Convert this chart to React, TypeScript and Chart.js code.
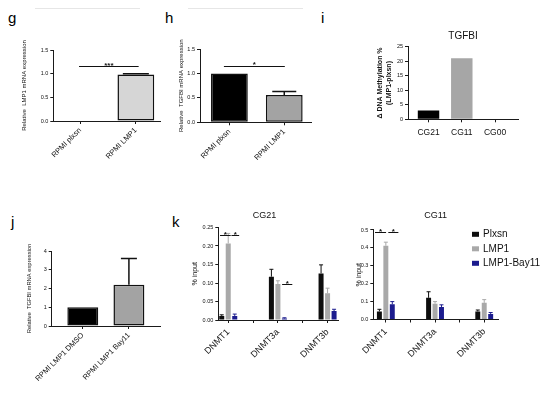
import React, { useEffect, useRef } from 'react';
import { Chart, registerables } from 'chart.js';

Chart.register(...registerables);

const FONT = "'Liberation Sans', Arial, Helvetica, sans-serif";
const AXIS = '#1a1a1a';
const INK = '#111111';

// ---------- panel g ----------
const gLabels = ['RPMI plxsn', 'RPMI LMP1'];
const gValues = [0, 0.98];
const gErrors = [0, 0.02];
const gColors = ['#ffffff', '#d6d6d6'];
const gSig: [number, number, number, string][] = [[0.98, 2.05, 1.16, '***']];

// ---------- panel h ----------
const hLabels = ['RPMI plxsn', 'RPMI LMP1'];
const hValues = [1.0, 0.56];
const hErrors = [0, 0.07];
const hColors = ['#000000', '#a3a3a3'];
const hSig: [number, number, number, string][] = [[0.9, 2.01, 1.15, '*']];

// ---------- panel i ----------
const iTitle = 'TGFBI';
const iLabels = ['CG21', 'CG11', 'CG00'];
const iValues = [3.0, 21.0, 0];
const iColors = ['#000000', '#a6a6a6', '#a6a6a6'];

// ---------- panel j ----------
const jLabels = ['RPMI LMP1 DMSO', 'RPMI LMP1 Bay11'];
const jValues = [1.0, 2.2];
const jErrors = [0, 1.4];
const jColors = ['#000000', '#a3a3a3'];

// ---------- panel k ----------
const kGenes = ['DNMT1', 'DNMT3a', 'DNMT3b'];
const kGenePos = [0, 2, 4];
const kTickPos = [0, 1, 2, 3, 4];
const kSeries = ['Plxsn', 'LMP1', 'LMP1-Bay11'];
const kColors = ['#0d0d0d', '#a9a9a9', '#1c1c8e'];

const cg21Plxsn = [0.011, 0.117, 0.126];
const cg21PlxsnErr = [0.003, 0.02, 0.023];
const cg21Lmp1 = [0.207, 0.097, 0.072];
const cg21Lmp1Err = [0.027, 0.009, 0.014];
const cg21Bay11 = [0.011, 0.004, 0.024];
const cg21Bay11Err = [0.005, 0.002, 0.005];
const cg21Sig: [number, number, number, string][] = [
  [-0.33, 0.1, 0.231, '*'],
  [0.13, 0.44, 0.231, '*'],
  [2.17, 2.58, 0.097, '*'],
];

const cg11Plxsn = [0.045, 0.121, 0.045];
const cg11PlxsnErr = [0.012, 0.034, 0.008];
const cg11Lmp1 = [0.412, 0.088, 0.093];
const cg11Lmp1Err = [0.02, 0.012, 0.018];
const cg11Bay11 = [0.085, 0.07, 0.031];
const cg11Bay11Err = [0.015, 0.012, 0.008];
const cg11Sig: [number, number, number, string][] = [
  [-0.44, 0.01, 0.49, '*'],
  [0.1, 0.51, 0.49, '*'],
];

// ---------- plugins ----------
const errorBarPlugin = {
  id: 'errorBars',
  afterDatasetsDraw(chart: any) {
    const ctx = chart.ctx;
    const y = chart.scales.y;
    chart.data.datasets.forEach((ds: any, di: number) => {
      if (!ds.errors) return;
      const meta = chart.getDatasetMeta(di);
      meta.data.forEach((bar: any, i: number) => {
        const e = ds.errors[i];
        if (!e) return;
        const v = ds.data[i].y;
        const top = y.getPixelForValue(v + e);
        const base = y.getPixelForValue(v);
        ctx.save();
        ctx.strokeStyle = ds.errorColor;
        ctx.lineWidth = ds.errorWidth;
        ctx.beginPath();
        ctx.moveTo(bar.x, base);
        ctx.lineTo(bar.x, top);
        ctx.moveTo(bar.x - ds.errorCap, top);
        ctx.lineTo(bar.x + ds.errorCap, top);
        ctx.stroke();
        ctx.restore();
      });
    });
  },
};

function makeSigPlugin(items: [number, number, number, string][], size: number, dy: number) {
  return {
    id: 'sigBrackets',
    afterDatasetsDraw(chart: any) {
      const { ctx } = chart;
      const xs = chart.scales.x;
      const ys = chart.scales.y;
      items.forEach(([a, b, v, text]) => {
        const x1 = xs.getPixelForValue(a);
        const x2 = xs.getPixelForValue(b);
        const py = Math.round(ys.getPixelForValue(v)) + 0.5;
        ctx.save();
        ctx.strokeStyle = INK;
        ctx.lineWidth = 1;
        ctx.beginPath();
        ctx.moveTo(x1, py);
        ctx.lineTo(x2, py);
        ctx.stroke();
        ctx.fillStyle = INK;
        ctx.font = `bold ${size}px ${FONT}`;
        ctx.textAlign = 'center';
        ctx.textBaseline = 'alphabetic';
        ctx.fillText(text, (x1 + x2) / 2, py + dy);
        ctx.restore();
      });
    },
  };
}

function makeLegendPlugin(dx: number, dy: number, rowH: number) {
  return {
    id: 'sideLegend',
    afterDraw(chart: any) {
      const { ctx, chartArea } = chart;
      chart.data.datasets.forEach((ds: any, i: number) => {
        const x = chartArea.right + dx;
        const y = chartArea.top + dy + i * rowH;
        ctx.save();
        ctx.fillStyle = ds.backgroundColor;
        ctx.fillRect(x, y - 2.5, 7, 5);
        ctx.fillStyle = INK;
        ctx.font = `10px ${FONT}`;
        ctx.textAlign = 'left';
        ctx.textBaseline = 'middle';
        ctx.fillText(ds.label, x + 11, y);
        ctx.restore();
      });
    },
  };
}

// ---------- layout helper ----------
type Rect = { x: number; y: number; w: number; h: number };
type Area = { l: number; t: number; r: number; b: number };
type Panel = {
  key: string;
  canvas: Rect;
  area: Area;
  yTitle: string | string[];
  yTitleX: number;
  yTitleSize: number;
  yTitleLH?: number;
  yTitleBold?: boolean;
  yMin: number;
  yMax: number;
  yStep: number;
  yDec: number;
  xMin: number;
  xMax: number;
  xTicks: number[];
  xLabel: (v: number) => string;
  xRot: number;
  xFont: number;
  xPad: number;
  title?: { text: string; cy: number; size: number; fullSize: boolean };
  datasets: any[];
  plugins: any[];
};

function buildConfig(p: Panel): any {
  const c = p.canvas;
  const a = p.area;
  const yLHm = p.yTitleLH ?? 1.2;
  const yLH = p.yTitleSize * yLHm;
  const padL = p.yTitleX - c.x - yLH / 2;
  const yW = a.l - c.x - padL;
  const xH = c.y + c.h - a.b;
  const padR = c.x + c.w - a.r;
  let padT = a.t - c.y;
  let title: any = { display: false };
  if (p.title) {
    const tLH = p.title.size * 1.2;
    padT = p.title.cy - c.y - tLH / 2;
    const pb = a.t - (c.y + padT + tLH);
    title = {
      display: true,
      text: p.title.text,
      fullSize: p.title.fullSize,
      color: INK,
      font: { family: FONT, size: p.title.size, weight: 'normal', lineHeight: 1.2 },
      padding: { top: 0, bottom: pb },
    };
  }
  const gridCfg = {
    display: true,
    drawOnChartArea: false,
    drawTicks: true,
    tickLength: 3,
    color: AXIS,
    lineWidth: 1,
    offset: false,
  };
  return {
    type: 'bar',
    data: { datasets: p.datasets },
    options: {
      animation: false,
      responsive: false,
      devicePixelRatio: 1,
      events: [],
      layout: { padding: { left: padL, top: padT, right: padR, bottom: 0 } },
      plugins: { legend: { display: false }, tooltip: { enabled: false }, title },
      scales: {
        x: {
          type: 'linear',
          min: p.xMin,
          max: p.xMax,
          offset: false,
          afterBuildTicks: (s: any) => {
            s.ticks = p.xTicks.map((v) => ({ value: v }));
          },
          afterFit: (s: any) => {
            s.height = xH;
            s.paddingLeft = 0;
            s.paddingRight = 0;
          },
          grid: gridCfg,
          border: { display: true, color: AXIS, width: 1 },
          ticks: {
            autoSkip: false,
            minRotation: p.xRot,
            maxRotation: p.xRot,
            padding: p.xPad,
            color: INK,
            font: { family: FONT, size: p.xFont },
            callback: (v: any) => p.xLabel(Number(v)),
          },
        },
        y: {
          type: 'linear',
          min: p.yMin,
          max: p.yMax,
          afterFit: (s: any) => {
            s.width = yW;
            s.paddingTop = 0;
            s.paddingBottom = 0;
          },
          grid: gridCfg,
          border: { display: true, color: AXIS, width: 1 },
          ticks: {
            autoSkip: false,
            stepSize: p.yStep,
            padding: 2,
            color: INK,
            font: { family: FONT, size: 5.5 },
            callback: (v: any) => Number(v).toFixed(p.yDec),
          },
          title: {
            display: true,
            text: p.yTitle,
            color: INK,
            font: { family: FONT, size: p.yTitleSize, weight: p.yTitleBold ? 'bold' : 'normal', lineHeight: yLHm },
            padding: { top: 0, bottom: 0 },
          },
        },
      },
    },
    plugins: [errorBarPlugin, ...p.plugins],
  };
}

function simpleDataset(values: number[], colors: string[], errors: number[] | null, border: number, barPct: number, cap: number) {
  return [
    {
      data: values.map((v, i) => ({ x: i + 1, y: v })),
      backgroundColor: colors,
      borderColor: INK,
      borderWidth: border,
      borderSkipped: false,
      barPercentage: barPct,
      categoryPercentage: 1,
      errors,
      errorColor: INK,
      errorCap: cap,
      errorWidth: 1.5,
    },
  ];
}

function kDatasets(vals: number[][], errs: number[][]) {
  return kSeries.map((name, s) => ({
    label: name,
    data: kGenePos.map((x, i) => ({ x, y: vals[s][i] })),
    backgroundColor: kColors[s],
    borderWidth: 0,
    barPercentage: 0.77,
    categoryPercentage: 0.786,
    errors: errs[s],
    errorColor: kColors[s],
    errorCap: 2,
    errorWidth: 1,
  }));
}

const kLabel = (v: number) => {
  const idx = kGenePos.indexOf(Math.round(v));
  return idx >= 0 ? kGenes[idx] : '';
};

const panels: Panel[] = [
  {
    key: 'g',
    canvas: { x: 0, y: 30, w: 170, h: 135 },
    area: { l: 53.3, t: 50, r: 160.7, b: 121 },
    yTitle: 'Relative  LMP1 mRNA expression',
    yTitleX: 24,
    yTitleSize: 6,
    yMin: 0, yMax: 1.5, yStep: 0.5, yDec: 1,
    xMin: 0.518, xMax: 2.446, xTicks: [1, 2],
    xLabel: (v) => gLabels[Math.round(v) - 1] ?? '',
    xRot: 45, xFont: 7.5, xPad: 2,
    datasets: simpleDataset(gValues, gColors, gErrors, 1.5, 0.66, 13),
    plugins: [makeSigPlugin(gSig, 8, 1)],
  },
  {
    key: 'h',
    canvas: { x: 170, y: 30, w: 150, h: 135 },
    area: { l: 200, t: 49, r: 311.7, b: 122.3 },
    yTitle: 'Relative  TGFBI mRNA expression',
    yTitleX: 181,
    yTitleSize: 6,
    yMin: 0, yMax: 1.5, yStep: 0.5, yDec: 1,
    xMin: 0.464, xMax: 2.5, xTicks: [1, 2],
    xLabel: (v) => hLabels[Math.round(v) - 1] ?? '',
    xRot: 45, xFont: 7.5, xPad: 2,
    datasets: simpleDataset(hValues, hColors, hErrors, 1.5, 0.67, 12),
    plugins: [makeSigPlugin(hSig, 8, 0)],
  },
  {
    key: 'i',
    canvas: { x: 360, y: 20, w: 190, h: 130 },
    area: { l: 408, t: 46.7, r: 518, b: 119.3 },
    yTitle: ['\u0394 DNA Methylation %', '(LMP1-plxsn)'],
    yTitleX: 380,
    yTitleSize: 7,
    yTitleLH: 9 / 7,
    yTitleBold: true,
    yMin: 0, yMax: 25, yStep: 5, yDec: 0,
    xMin: 0.383, xMax: 3.69, xTicks: [1, 2, 3],
    xLabel: (v) => iLabels[Math.round(v) - 1] ?? '',
    xRot: 0, xFont: 8.5, xPad: 5,
    title: { text: iTitle, cy: 36.7, size: 10, fullSize: false },
    datasets: simpleDataset(iValues, iColors, null, 0, 0.645, 0),
    plugins: [],
  },
  {
    key: 'j',
    canvas: { x: 0, y: 230, w: 170, h: 165 },
    area: { l: 51.7, t: 251, r: 160, b: 326 },
    yTitle: 'Relative  TGFBI mRNA expression',
    yTitleX: 29,
    yTitleSize: 5.8,
    yMin: 0, yMax: 4, yStep: 1, yDec: 0,
    xMin: 0.326, xMax: 2.674, xTicks: [1, 2],
    xLabel: (v) => jLabels[Math.round(v) - 1] ?? '',
    xRot: 45, xFont: 7.5, xPad: 2,
    datasets: simpleDataset(jValues, jColors, jErrors, 1.5, 0.67, 8),
    plugins: [],
  },
  {
    key: 'cg21',
    canvas: { x: 180, y: 205, w: 175, h: 190 },
    area: { l: 218.3, t: 227.5, r: 338, b: 320 },
    yTitle: '% input',
    yTitleX: 195,
    yTitleSize: 7,
    yMin: 0, yMax: 0.25, yStep: 0.05, yDec: 2,
    xMin: -0.4, xMax: 4.42, xTicks: kTickPos,
    xLabel: kLabel,
    xRot: 45, xFont: 9, xPad: 4,
    title: { text: 'CG21', cy: 216, size: 9, fullSize: true },
    datasets: kDatasets([cg21Plxsn, cg21Lmp1, cg21Bay11], [cg21PlxsnErr, cg21Lmp1Err, cg21Bay11Err]),
    plugins: [makeSigPlugin(cg21Sig, 8, 1)],
  },
  {
    key: 'cg11',
    canvas: { x: 350, y: 205, w: 200, h: 190 },
    area: { l: 373.3, t: 230, r: 498, b: 319.5 },
    yTitle: '% input',
    yTitleX: 359,
    yTitleSize: 7,
    yMin: 0, yMax: 0.5, yStep: 0.1, yDec: 1,
    xMin: -0.51, xMax: 4.56, xTicks: kTickPos,
    xLabel: kLabel,
    xRot: 45, xFont: 9, xPad: 4,
    title: { text: 'CG11', cy: 216, size: 9, fullSize: false },
    datasets: kDatasets([cg11Plxsn, cg11Lmp1, cg11Bay11], [cg11PlxsnErr, cg11Lmp1Err, cg11Bay11Err]),
    plugins: [makeSigPlugin(cg11Sig, 8, 1), makeLegendPlugin(-26, 4.3, 14.5)],
  },
];

function PanelChart({ p }: { p: Panel }) {
  const ref = useRef<HTMLCanvasElement>(null);
  useEffect(() => {
    if (!ref.current) return;
    const chart = new Chart(ref.current, buildConfig(p));
    return () => chart.destroy();
  }, []);
  return (
    <canvas
      ref={ref}
      width={p.canvas.w}
      height={p.canvas.h}
      style={{ position: 'absolute', left: p.canvas.x, top: p.canvas.y, width: p.canvas.w, height: p.canvas.h }}
    />
  );
}

const panelLetters: [string, number, number][] = [
  ['g', 8, 9],
  ['h', 165, 9],
  ['i', 321, 9],
  ['j', 11, 213],
  ['k', 172, 213],
];

export default function App() {
  return (
    <div
      style={{
        position: 'absolute',
        left: 0,
        top: 0,
        width: 550,
        height: 395,
        background: '#ffffff',
        overflow: 'hidden',
        fontFamily: FONT,
      }}
    >
      <div style={{ position: 'absolute', left: 35, top: 8, width: 105, height: 1, background: '#e6e6e6' }} />
      <div style={{ position: 'absolute', left: 188, top: 8, width: 115, height: 1, background: '#e6e6e6' }} />
      {panelLetters.map(([t, x, y]) => (
        <div key={t} style={{ position: 'absolute', left: x, top: y, fontSize: 15, lineHeight: '17px', color: '#000' }}>
          {t}
        </div>
      ))}
      {panels.map((p) => (
        <PanelChart key={p.key} p={p} />
      ))}
    </div>
  );
}
